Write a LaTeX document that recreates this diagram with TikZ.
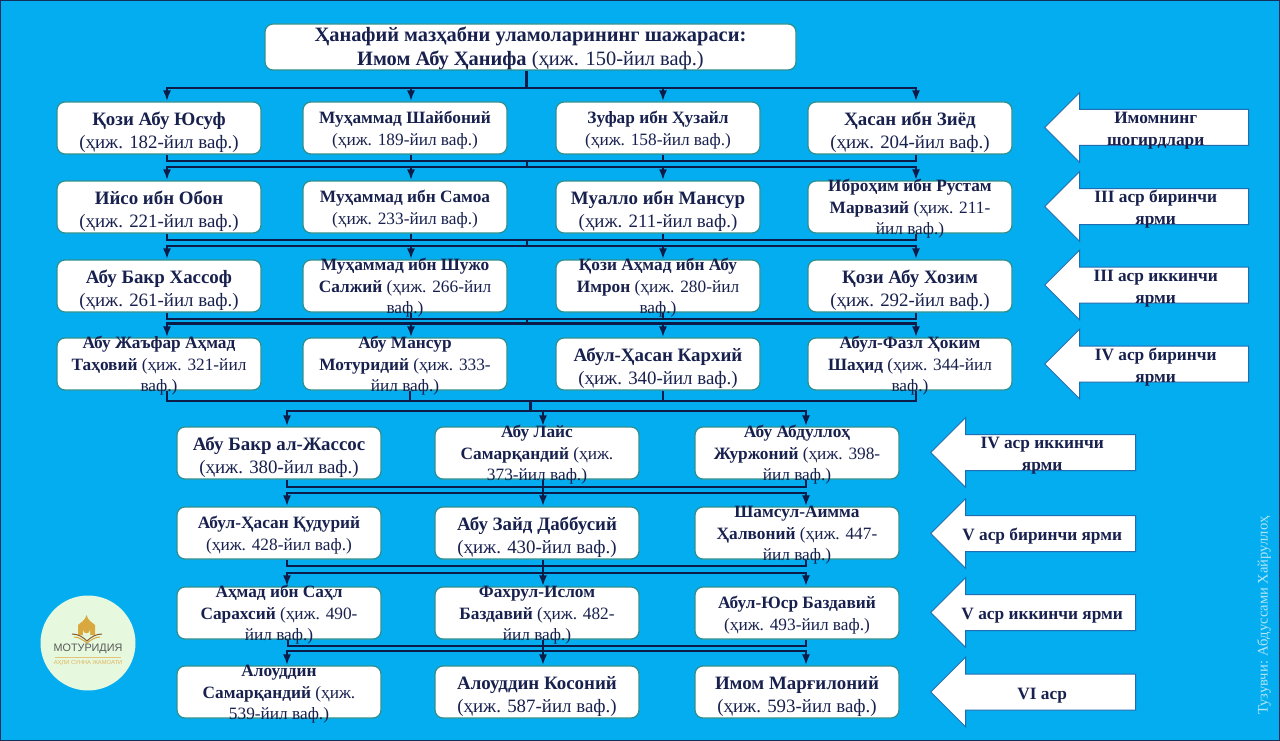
\documentclass[tikz,border=0pt]{standalone}
\usepackage{fontspec}
\setmainfont{Liberation Serif}
\newfontfamily\logofont{Liberation Sans}
\usetikzlibrary{arrows.meta,shapes.arrows}
\definecolor{skyback}{HTML}{03ADEF}
\definecolor{frameink}{HTML}{12305A}
\definecolor{boxedge}{HTML}{2E8F8E}
\definecolor{inkblue}{HTML}{18204E}
\definecolor{lineink}{HTML}{0C1C48}
\definecolor{arrowedge}{HTML}{1F6CB0}
\definecolor{logoback}{HTML}{E6F8DE}
\definecolor{logogold}{HTML}{D9A93F}
% lines of a box stick out of it, as they do in the picture
\newcommand{\spilldrop}{-5pt}
\newcommand{\spill}[1]{\makebox[0pt]{\smash{\raisebox{\spilldrop}{\begin{tabular}[c]{@{}c@{}}#1\end{tabular}}}}}
\tikzset{
    personbox/.style={draw=boxedge, fill=white, line width=1.2pt, rounded corners=8pt,
        minimum width=204pt, minimum height=52pt, inner sep=0pt, text=inkblue},
    titletext/.style={font=\fontsize{20.4}{24}\selectfont\renewcommand{\spilldrop}{-7pt}},
    bigtext/.style={font=\fontsize{18.9}{23}\selectfont\renewcommand{\spilldrop}{-8.5pt}},
    smalltext/.style={font=\fontsize{17.3}{21.5}\selectfont\renewcommand{\spilldrop}{-6.5pt}},
    agearrow/.style={draw=arrowedge, fill=white, line width=1pt, single arrow,
        shape border rotate=180, single arrow head extend=17pt, single arrow head indent=0pt,
        inner xsep=0pt, inner ysep=17.5pt, anchor=tip, text=inkblue,
        font=\bfseries\fontsize{17.3}{22}\selectfont\renewcommand{\spilldrop}{-7pt}},
    busline/.style={draw=lineink, line width=2.2pt},
    fanline/.style={busline, -{Latex[length=11pt,width=8pt]}}
}
\begin{document}
\begin{tikzpicture}[x=1pt,y=-1pt]
    \useasboundingbox (0,0) rectangle (1280,741);
    \fill[skyback] (0,0) rectangle (1280,741);
    \draw[frameink, line width=2pt] (0,0) rectangle (1280,741);

    \node[personbox, titletext, minimum width=531pt, minimum height=46pt] (title) at (530.5,47)
        {\spill{\textbf{Ҳанафий мазҳабни уламоларининг шажараси:}\\\textbf{Имом Абу Ҳанифа} (ҳиж. 150-йил ваф.)}};

    \node[personbox, bigtext] (a1) at (159,128) {\spill{\textbf{Қози Абу Юсуф}\\(ҳиж. 182-йил ваф.)}};
    \node[personbox, smalltext] (a2) at (405,128) {\spill{\textbf{Муҳаммад Шайбоний}\\(ҳиж. 189-йил ваф.)}};
    \node[personbox, smalltext] (a3) at (658,128) {\spill{\textbf{Зуфар ибн Ҳузайл}\\(ҳиж. 158-йил ваф.)}};
    \node[personbox, bigtext] (a4) at (910,128) {\spill{\textbf{Ҳасан ибн Зиёд}\\(ҳиж. 204-йил ваф.)}};

    \node[personbox, bigtext] (b1) at (159,207) {\spill{\textbf{Ийсо ибн Обон}\\(ҳиж. 221-йил ваф.)}};
    \node[personbox, smalltext] (b2) at (405,207) {\spill{\textbf{Муҳаммад ибн Самоа}\\(ҳиж. 233-йил ваф.)}};
    \node[personbox, bigtext] (b3) at (658,207) {\spill{\textbf{Муалло ибн Мансур}\\(ҳиж. 211-йил ваф.)}};
    \node[personbox, smalltext] (b4) at (910,207) {\spill{\textbf{Иброҳим ибн Рустам}\\\textbf{Марвазий} (ҳиж. 211-\\йил ваф.)}};

    \node[personbox, bigtext] (c1) at (159,286) {\spill{\textbf{Абу Бакр Хассоф}\\(ҳиж. 261-йил ваф.)}};
    \node[personbox, smalltext] (c2) at (405,286) {\spill{\textbf{Муҳаммад ибн Шужо}\\\textbf{Салжий} (ҳиж. 266-йил\\ваф.)}};
    \node[personbox, smalltext] (c3) at (658,286) {\spill{\textbf{Қози Аҳмад ибн Абу}\\\textbf{Имрон} (ҳиж. 280-йил\\ваф.)}};
    \node[personbox, bigtext] (c4) at (910,286) {\spill{\textbf{Қози Абу Хозим}\\(ҳиж. 292-йил ваф.)}};

    \node[personbox, smalltext] (d1) at (159,364) {\spill{\textbf{Абу Жаъфар Аҳмад}\\\textbf{Таҳовий} (ҳиж. 321-йил\\ваф.)}};
    \node[personbox, smalltext] (d2) at (405,364) {\spill{\textbf{Абу Мансур}\\\textbf{Мотуридий} (ҳиж. 333-\\йил ваф.)}};
    \node[personbox, bigtext] (d3) at (658,364) {\spill{\textbf{Абул-Ҳасан Кархий}\\(ҳиж. 340-йил ваф.)}};
    \node[personbox, smalltext] (d4) at (910,364) {\spill{\textbf{Абул-Фазл Ҳоким}\\\textbf{Шаҳид} (ҳиж. 344-йил\\ваф.)}};

    \node[personbox, bigtext] (e1) at (279,453) {\spill{\textbf{Абу Бакр ал-Жассос}\\(ҳиж. 380-йил ваф.)}};
    \node[personbox, smalltext] (e2) at (537,453) {\spill{\textbf{Абу Лайс}\\\textbf{Самарқандий} (ҳиж.\\373-йил ваф.)}};
    \node[personbox, smalltext] (e3) at (797,453) {\spill{\textbf{Абу Абдуллоҳ}\\\textbf{Журжоний} (ҳиж. 398-\\йил ваф.)}};

    \node[personbox, smalltext] (f1) at (279,533) {\spill{\textbf{Абул-Ҳасан Қудурий}\\(ҳиж. 428-йил ваф.)}};
    \node[personbox, bigtext] (f2) at (537,533) {\spill{\textbf{Абу Зайд Даббусий}\\(ҳиж. 430-йил ваф.)}};
    \node[personbox, smalltext] (f3) at (797,533) {\spill{\textbf{Шамсул-Аимма}\\\textbf{Ҳалвоний} (ҳиж. 447-\\йил ваф.)}};

    \node[personbox, smalltext] (g1) at (279,613) {\spill{\textbf{Аҳмад ибн Саҳл}\\\textbf{Сарахсий} (ҳиж. 490-\\йил ваф.)}};
    \node[personbox, smalltext] (g2) at (537,613) {\spill{\textbf{Фахрул-Ислом}\\\textbf{Баздавий} (ҳиж. 482-\\йил ваф.)}};
    \node[personbox, smalltext] (g3) at (797,613) {\spill{\textbf{Абул-Юср Баздавий}\\(ҳиж. 493-йил ваф.)}};

    \node[personbox, smalltext] (h1) at (279,692) {\spill{\textbf{Алоуддин}\\\textbf{Самарқандий} (ҳиж.\\539-йил ваф.)}};
    \node[personbox, bigtext] (h2) at (537,692) {\spill{\textbf{Алоуддин Косоний}\\(ҳиж. 587-йил ваф.)}};
    \node[personbox, bigtext] (h3) at (797,692) {\spill{\textbf{Имом Марғилоний}\\(ҳиж. 593-йил ваф.)}};

    \node[agearrow, minimum height=204pt] (s1) at (1044,127.5) {\spill{Имомнинг\\шогирдлари}};
    \node[agearrow, minimum height=204pt] (s2) at (1044,206.5) {\spill{III аср биринчи\\ярми}};
    \node[agearrow, minimum height=204pt] (s3) at (1044,285) {\spill{III аср иккинчи\\ярми}};
    \node[agearrow, minimum height=204pt] (s4) at (1044,364) {\spill{IV аср биринчи\\ярми}};
    \node[agearrow, minimum height=205pt] (s5) at (930,452.5) {\spill{IV аср иккинчи\\ярми}};
    \node[agearrow, minimum height=205pt] (s6) at (930,533.5) {\spill{V аср биринчи ярми}};
    \node[agearrow, minimum height=205pt] (s7) at (930,612.5) {\spill{V аср иккинчи ярми}};
    \node[agearrow, minimum height=205pt] (s8) at (930,692) {\spill{VI аср}};

    % title to first row
    \coordinate (j0) at (526.5,88);
    \draw[busline] ([xshift=-4pt]title.south) -- (j0);
    \draw[fanline] (j0) -| ([xshift=8pt]a1.north);
    \draw[fanline] (j0) -| ([xshift=6pt]a2.north);
    \draw[fanline] (j0) -| ([xshift=5pt]a3.north);
    \draw[fanline] (j0) -| ([xshift=6pt]a4.north);

    % first to second row
    \coordinate (u1) at (527,161);
    \coordinate (j1) at (527,167);
    \draw[busline] ([xshift=8pt]a1.south) |- (u1) -| ([xshift=6pt]a4.south);
    \draw[busline] ([xshift=6pt]a2.south) -- ++(0,7);
    \draw[busline] ([xshift=5pt]a3.south) -- ++(0,7);
    \draw[busline] (u1) -- (j1);
    \draw[fanline] (j1) -| ([xshift=8pt]b1.north);
    \draw[fanline] (j1) -| ([xshift=6pt]b2.north);
    \draw[fanline] (j1) -| ([xshift=5pt]b3.north);
    \draw[fanline] (j1) -| ([xshift=6pt]b4.north);

    % second to third row
    \coordinate (u2) at (527,240);
    \coordinate (j2) at (527,246);
    \draw[busline] ([xshift=8pt]b1.south) |- (u2) -| ([xshift=6pt]b4.south);
    \draw[busline] ([xshift=6pt]b2.south) -- ++(0,7);
    \draw[busline] ([xshift=5pt]b3.south) -- ++(0,7);
    \draw[busline] (u2) -- (j2);
    \draw[fanline] (j2) -| ([xshift=8pt]c1.north);
    \draw[fanline] (j2) -| ([xshift=6pt]c2.north);
    \draw[fanline] (j2) -| ([xshift=5pt]c3.north);
    \draw[fanline] (j2) -| ([xshift=6pt]c4.north);

    % third to fourth row
    \coordinate (u3) at (527,319);
    \coordinate (j3) at (527,323.5);
    \draw[busline] ([xshift=8pt]c1.south) |- (u3) -| ([xshift=6pt]c4.south);
    \draw[busline] ([xshift=6pt]c2.south) -- ++(0,7);
    \draw[busline] ([xshift=5pt]c3.south) -- ++(0,7);
    \draw[busline] (u3) -- (j3);
    \draw[fanline] (j3) -| ([xshift=8pt]d1.north);
    \draw[fanline] (j3) -| ([xshift=6pt]d2.north);
    \draw[fanline] (j3) -| ([xshift=5pt]d3.north);
    \draw[fanline] (j3) -| ([xshift=6pt]d4.north);

    % fourth to fifth row
    \coordinate (u4) at (530.5,401);
    \coordinate (j4) at (530.5,411);
    \draw[busline] ([xshift=8pt]d1.south) |- (u4) -| ([xshift=6pt]d4.south);
    \draw[busline] ([xshift=5pt]d2.south) -- ++(0,11);
    \draw[busline] ([xshift=5pt]d3.south) -- ++(0,11);
    \draw[busline] (u4) -- (j4);
    \draw[fanline] (j4) -| ([xshift=8pt]e1.north);
    \draw[fanline] (j4) -| ([xshift=6pt]e2.north);
    \draw[fanline] (j4) -| ([xshift=9pt]e3.north);

    % fifth to sixth row
    \coordinate (u5) at (543,487);
    \coordinate (j5) at (543,493);
    \draw[busline] ([xshift=8pt]e1.south) |- (u5) -| ([xshift=9pt]e3.south);
    \draw[busline] ([xshift=6pt]e2.south) -- (u5) -- (j5);
    \draw[fanline] (j5) -| ([xshift=8pt]f1.north);
    \draw[fanline] (j5) -- ([xshift=6pt]f2.north);
    \draw[fanline] (j5) -| ([xshift=9pt]f3.north);

    % sixth to seventh row
    \coordinate (u6) at (543,566);
    \coordinate (j6) at (543,573);
    \draw[busline] ([xshift=8pt]f1.south) |- (u6) -| ([xshift=9pt]f3.south);
    \draw[busline] ([xshift=6pt]f2.south) -- (u6) -- (j6);
    \draw[fanline] (j6) -| ([xshift=8pt]g1.north);
    \draw[fanline] (j6) -- ([xshift=6pt]g2.north);
    \draw[fanline] (j6) -| ([xshift=9pt]g3.north);

    % seventh to last row
    \coordinate (u7) at (543,646);
    \coordinate (j7) at (543,651);
    \draw[busline] ([xshift=9pt]g1.south) |- (u7) -| ([xshift=9pt]g3.south);
    \draw[busline] ([xshift=6pt]g2.south) -- (u7) -- (j7);
    \draw[fanline] (j7) -| ([xshift=8pt]h1.north);
    \draw[fanline] (j7) -- ([xshift=6pt]h2.north);
    \draw[fanline] (j7) -| ([xshift=9pt]h3.north);

    % logo
    \fill[logoback] (88,643) circle (47.5);
    \fill[logogold] (78,635) -- (78,625) .. controls (81,622) and (85,621) .. (86.5,615)
        .. controls (88,621) and (92,622) .. (95,625) -- (95,635) -- cycle;
    \fill[logoback] (83,635) -- (83,630) arc (180:0:3.5) -- (90,635) -- cycle;
    \draw[brown!70!black, line width=1pt] (72,634) .. controls (78,634) and (83,637) .. (87,641)
        .. controls (91,637) and (96,634) .. (102,634);
    \draw[logogold, line width=1pt] (74,637) .. controls (79,637) and (83,640) .. (87,643)
        .. controls (91,640) and (95,637) .. (100,637);
    \node[font=\logofont\fontsize{10.8}{12}\selectfont, text=black!65, inner sep=0pt] (logoname) at (88,649) {МОТУРИДИЯ};
    \draw[logogold!70, line width=.6pt] (55,657) -- (121,657);
    \node[font=\logofont\fontsize{5.8}{7}\selectfont, text=logogold!85, inner sep=0pt] (logonote) at (88,663) {АҲЛИ СУННА ЖАМОАТИ};

    \node[rotate=90, text=cyan!30!white, font=\fontsize{14.6}{16}\selectfont, inner sep=0pt] (credit) at (1264,615.5) {Тузувчи: Абдуссами Хайруллоҳ};
\end{tikzpicture}
\end{document}
